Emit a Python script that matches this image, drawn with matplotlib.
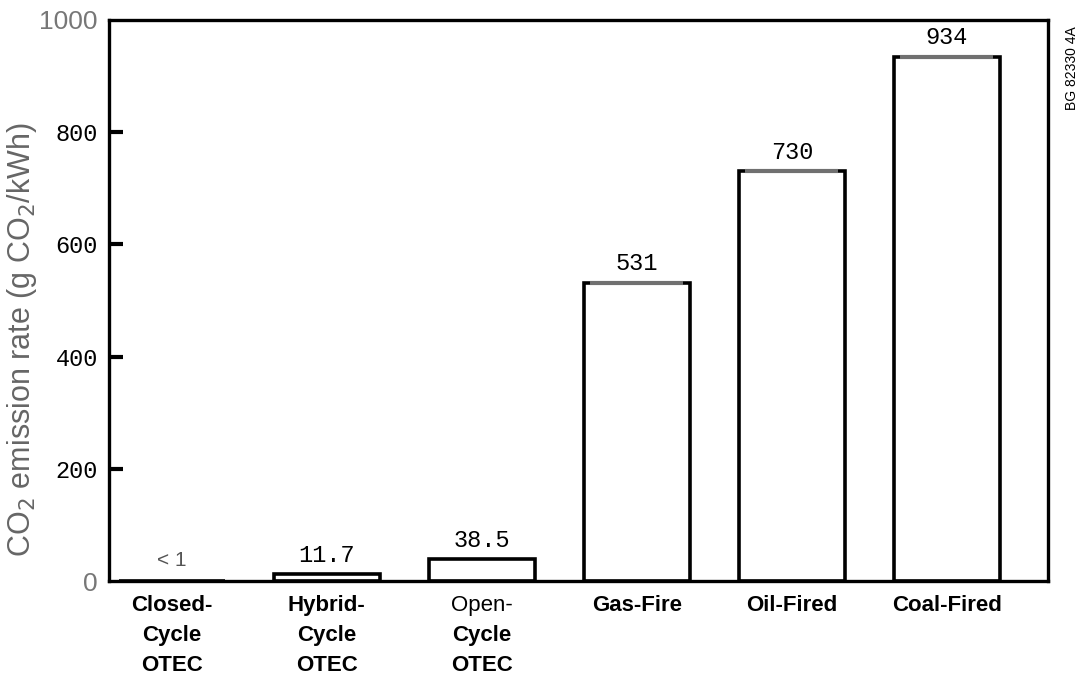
import matplotlib.pyplot as plt
import numpy as np

# ── Data ───────────────────────────────────────────────────────────────
categories = ["Closed-\nCycle\nOTEC", "Hybrid-\nCycle\nOTEC", "Open-\nCycle\nOTEC",
              "Gas-Fire", "Oil-Fired", "Coal-Fired"]
emissions = [0.5, 11.7, 38.5, 531, 730, 934]
value_labels = ["< 1", "11.7", "38.5", "531", "730", "934"]
yticks = [0, 200, 400, 600, 800, 1000]

fig = plt.figure(figsize=(10.83, 6.81), dpi=100)
ax = fig.add_axes([0.1006, 0.1468, 0.867, 0.824])

x = np.arange(len(categories))
ax.bar(x, emissions, width=0.68, color="white", edgecolor="black",
       linewidth=2.6, zorder=2)
# grey top edge of each bar
ax.hlines(emissions[3:], x[3:] - 0.3, x[3:] + 0.3, color="#707070",
          linewidth=3, zorder=3)

for i, (v, lab) in enumerate(zip(emissions, value_labels)):
    if i == 0:
        ax.text(i, 20, lab, ha="center", va="bottom", fontsize=15,
                color="#555555", family="Liberation Sans")
    else:
        ax.text(i, v + 14, lab, ha="center", va="bottom", fontsize=17,
                family="Liberation Mono")

ax.set_xlim(-0.406, 5.652)
ax.set_ylim(0, 1000)

ax.set_yticks(yticks)
ax.set_yticklabels([str(t) for t in yticks], fontsize=17, family="Liberation Mono")
for t in ax.get_yticklabels():
    if t.get_text() in ("0", "1000"):
        t.set_color("#777777")
        t.set_family("Liberation Sans")
        t.set_fontsize(19)
ax.tick_params(axis="y", direction="in", length=10, width=3, pad=8)
ticks = ax.yaxis.get_major_ticks()
ticks[0].tick1line.set_visible(False)
ticks[-1].tick1line.set_visible(False)

# category labels, one line at a time ("Open-" is drawn in regular weight)
ax.set_xticks(x)
ax.set_xticklabels([])
ax.tick_params(axis="x", length=0)
for i, cat in enumerate(categories):
    for j, line in enumerate(cat.split("\n")):
        weight = "normal" if line == "Open-" else "bold"
        ax.annotate(line, xy=(i, 0), xycoords=("data", "axes fraction"),
                    xytext=(0, -10 - 21.6 * j), textcoords="offset points",
                    ha="center", va="top", fontsize=16, fontweight=weight,
                    family="Liberation Sans")

ax.set_ylabel("CO$_2$ emission rate (g CO$_2$/kWh)", fontsize=22,
              color="#666666", family="Liberation Sans")
ax.yaxis.set_label_coords(-0.074, 0.43)

for s in ax.spines.values():
    s.set_linewidth(2.4)

fig.text(0.99, 0.9, "BG 82330 4A", rotation=90, fontsize=10,
         ha="center", va="center", family="Liberation Sans")

plt.savefig("out.png", dpi=100)
